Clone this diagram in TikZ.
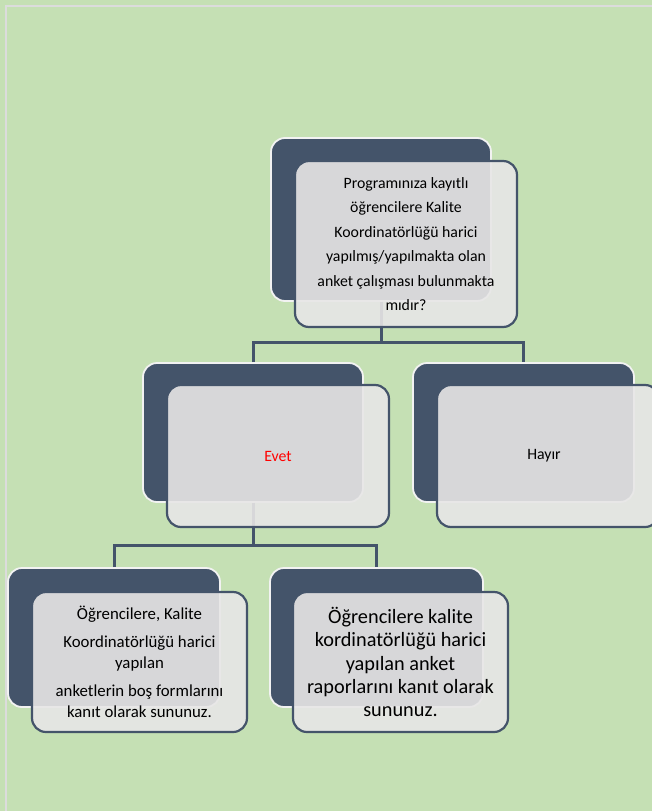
\documentclass[tikz,border=0pt]{standalone}
\usepackage{fontspec}
\setmainfont{Carlito}
\definecolor{bg}{HTML}{C5E0B4}
\definecolor{navy}{HTML}{44546A}
\definecolor{lightfill}{HTML}{E7E6E6}
\definecolor{framecol}{HTML}{DCDCDC}
\tikzset{
  darkbox/.style={draw=white!90!gray, line width=1.8pt, fill=navy, rounded corners=14pt, inner sep=0pt},
  lightbox/.style={draw=navy, line width=2.2pt, fill=lightfill, fill opacity=0.9, text opacity=1, rounded corners=14pt, inner sep=0pt, align=center},
  conn/.style={draw=navy, line width=3pt}
}
\begin{document}
\begin{tikzpicture}[x=1pt,y=-1pt]
\useasboundingbox (0,0) rectangle (652,811);
\clip (0,0) rectangle (652,811);
\fill[bg] (0,0) rectangle (652,811);
\draw[framecol, line width=2pt] (6,811) -- (6,6) -- (652,6);
% dark boxes
\node[darkbox, minimum width=220pt, minimum height=163pt] (td) at (381,219.5) {};
\node[darkbox, minimum width=220pt, minimum height=139pt] (mld) at (253,432.5) {};
\node[darkbox, minimum width=221pt, minimum height=139pt] (mrd) at (523.5,432.5) {};
\node[darkbox, minimum width=212pt, minimum height=139pt] (bld) at (114,637.5) {};
\node[darkbox, minimum width=213pt, minimum height=139pt] (brd) at (376.5,637.5) {};
% connectors
\draw[conn] (td.south) -- ++(0,41) coordinate (tj);
\draw[conn] (mld.north) |- (tj) -| (mrd.north);
\draw[conn] (mld.south) -- ++(0,43) coordinate (mj);
\draw[conn] (bld.north) |- (mj) -| (brd.north);
% light boxes
\node[lightbox, minimum width=222pt, minimum height=166pt, font={\fontsize{15.8}{24.4}\selectfont}] (tl) at (406,244)
  {Programınıza kayıtlı\\öğrencilere Kalite\\Koordinatörlüğü harici\\yapılmış/yapılmakta olan\\anket çalışması bulunmakta\\mıdır?};
\node[lightbox, minimum width=222pt, minimum height=142pt, font={\fontsize{15.8}{18}\selectfont}, text=red] (mll) at (278,456)
  {Evet};
\node[lightbox, minimum width=222pt, minimum height=142pt, font={\fontsize{15.8}{18}\selectfont}] (mrl) at (548,456)
  {\hspace*{-8pt}Hayır};
\node[lightbox, minimum width=215pt, minimum height=140pt, font={\fontsize{16.8}{21}\selectfont}] (bll) at (139.5,662)
  {Öğrencilere, Kalite\\[7pt]Koordinatörlüğü harici\\yapılan\\[7pt]anketlerin boş formlarını\\kanıt olarak sununuz.};
\node[lightbox, minimum width=215pt, minimum height=140pt, font={\fontsize{20.3}{23.3}\selectfont}] (brl) at (400.5,662)
  {Öğrencilere kalite\\kordinatörlüğü harici\\yapılan anket\\raporlarını kanıt olarak\\sununuz.};
\end{tikzpicture}
\end{document}
